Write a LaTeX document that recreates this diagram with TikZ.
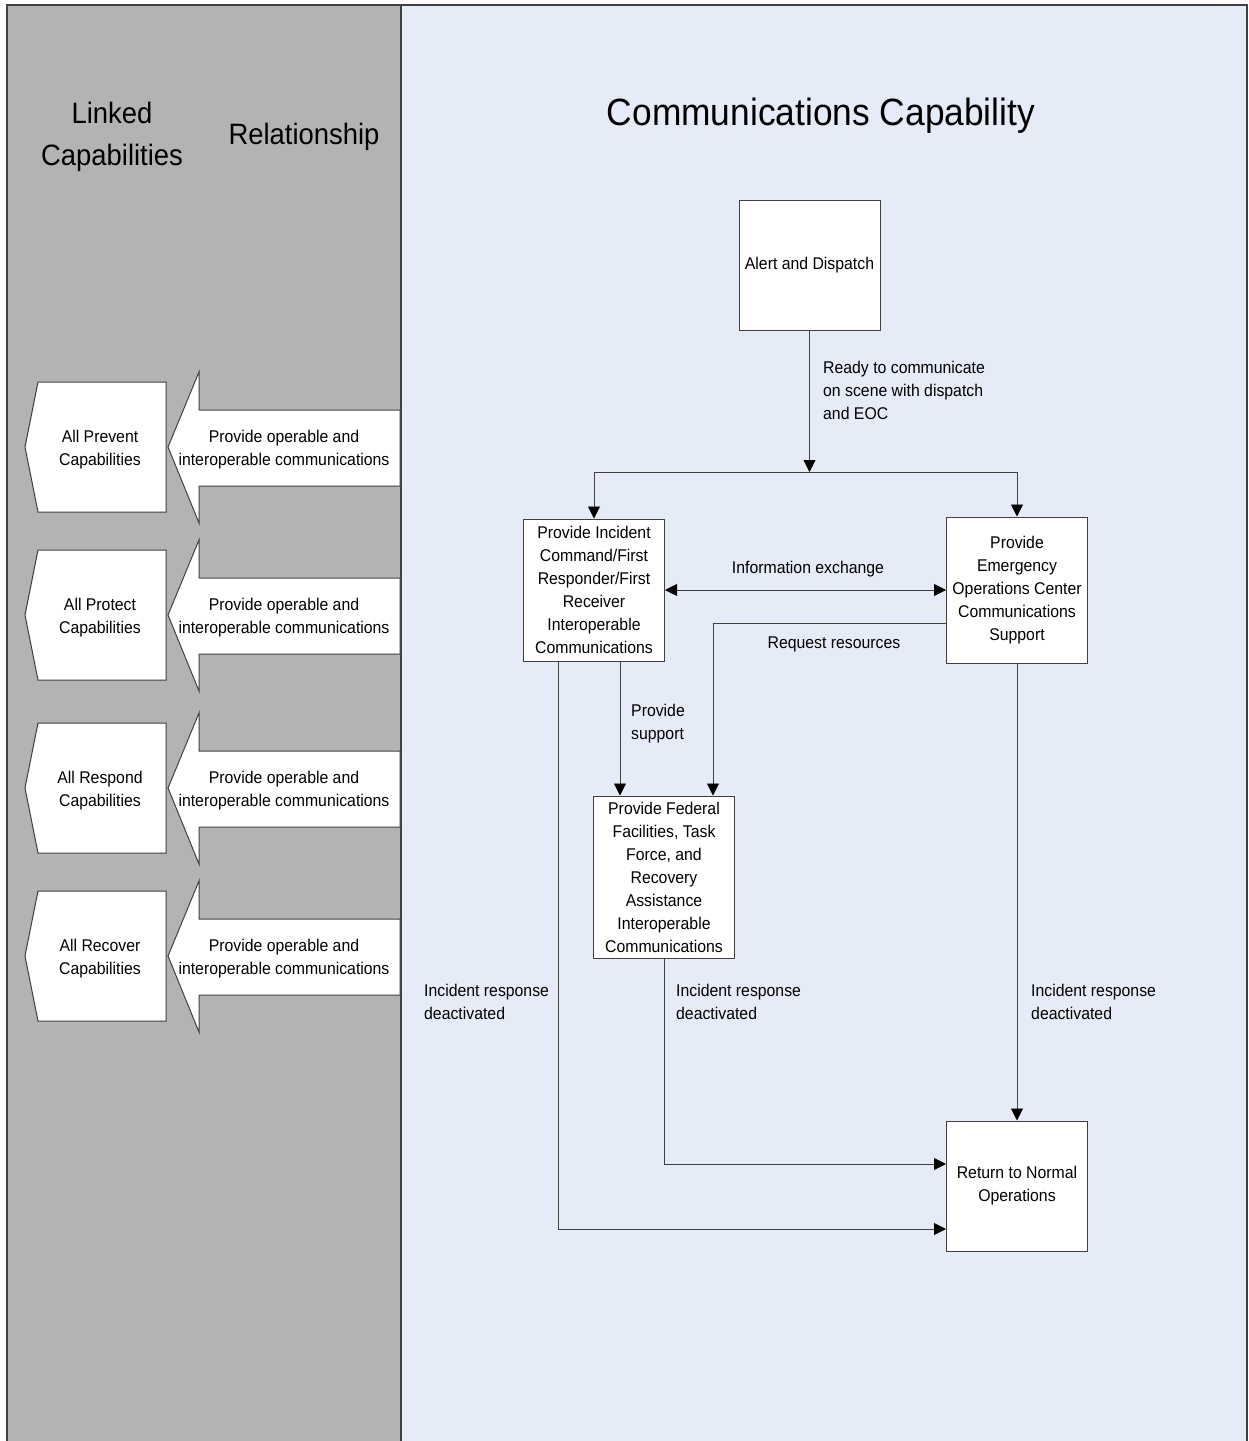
\documentclass[tikz,border=0pt]{standalone}
\usepackage{fontspec}
\setmainfont{Liberation Sans}[FakeStretch=0.93]
\usetikzlibrary{arrows.meta}
\definecolor{panelgray}{HTML}{B3B3B3}
\definecolor{panelblue}{HTML}{E6ECF7}
\definecolor{edge}{HTML}{404040}
\tikzset{
  body/.style={font=\fontsize{17}{23}\selectfont},
  procbox/.style={body, draw=edge, fill=white, line width=1pt, align=center, inner sep=0pt, minimum width=141pt},
  lbl/.style={body, inner sep=0pt, align=left, anchor=west},
  arr/.style={draw=edge, line width=0.9pt, -{Triangle[length=12pt,width=12pt,color=black]}},
  darr/.style={draw=edge, line width=0.9pt, {Triangle[length=12pt,width=12pt,color=black]}-{Triangle[length=12pt,width=12pt,color=black]}},
  shapeline/.style={draw=edge, fill=white, line width=1pt, line join=miter},
}
\begin{document}
\begin{tikzpicture}[x=1pt,y=-1pt]
\useasboundingbox (0,0) rectangle (1249,1441);
% panels
\fill[panelgray] (7,5) rectangle (401,1441);
\fill[panelblue] (401,5) rectangle (1247,1441);
\draw[edge, line width=1.2pt] (7,1441) -- (7,5) -- (1247,5) -- (1247,1441);
\draw[edge, line width=1.2pt] (401,5) -- (401,1441);
% headers
\node[font=\fontsize{29.5}{42}\selectfont, align=center] (hlinked) at (112,136.5) {Linked\\Capabilities};
\node[font=\fontsize{29.5}{42}\selectfont] (hrel) at (304,136.5) {Relationship};
\node[font=\fontsize{38}{46}\selectfont] (htitle) at (821,116) {Communications Capability};
% linked capabilities rows
\foreach \yo/\nm/\txt in {382/prevent/All Prevent, 550/protect/All Protect, 723/respond/All Respond, 891/recover/All Recover}{
  \draw[shapeline] (25,\yo+65) -- (38,\yo) -- (166,\yo) -- (166,\yo+130) -- (38,\yo+130) -- cycle;
  \draw[shapeline] (168,\yo+65) -- (199,\yo-10) -- (199,\yo+28) -- (400,\yo+28) -- (400,\yo+104) -- (199,\yo+104) -- (199,\yo+141) -- cycle;
  \node[body, align=center] (cap-\nm) at (100,\yo+68) {\txt\\Capabilities};
  \node[body, align=center] (rel-\nm) at (284,\yo+68) {Provide operable and\\interoperable communications};
}
% process boxes
\node[procbox, minimum height=130pt] (alert) at (809.5,265) {\raisebox{-1.5pt}{Alert and Dispatch}};
\node[procbox, minimum height=142pt] (ics) at (594,590) {Provide Incident\\Command/First\\Responder/First\\Receiver\\Interoperable\\Communications};
\node[procbox, minimum height=146pt] (eoc) at (1017,590) {Provide\\Emergency\\Operations Center\\Communications\\Support};
\node[procbox, minimum height=162pt] (fed) at (664,877) {Provide Federal\\Facilities, Task\\Force, and\\Recovery\\Assistance\\Interoperable\\Communications};
\node[procbox, minimum height=130pt] (ret) at (1017,1186) {Return to Normal\\Operations};
\coordinate (split) at (809.5,472);
% connectors
\draw[arr] (alert.south) -- (split);
\draw[arr] (split) -| (ics.north);
\draw[arr] (split) -| (eoc.north);
\draw[darr] (ics.east) -- (eoc.west);
\draw[arr] ([yshift=-33pt]eoc.west) -| ([xshift=49pt]fed.north);
\draw[arr] ([xshift=26pt]ics.south) -- ([xshift=-44pt]fed.north);
\draw[arr] ([xshift=-36pt]ics.south) |- ([yshift=-43pt]ret.west);
\draw[arr] (fed.south) |- ([yshift=22pt]ret.west);
\draw[arr] (eoc.south) -- (ret.north);
% labels
\node[lbl] (lready) at (823,390.5) {Ready to communicate\\on scene with dispatch\\and EOC};
\node[body, inner sep=0pt] (linfo) at (808,569.5) {Information exchange};
\node[body, inner sep=0pt] (lreq) at (834,644.5) {Request resources};
\node[lbl] (lsupport) at (631,724) {Provide\\support};
\node[lbl] (ldeact1) at (424,1002) {Incident response\\deactivated};
\node[lbl] (ldeact2) at (676,1002) {Incident response\\deactivated};
\node[lbl] (ldeact3) at (1031,1002) {Incident response\\deactivated};
\end{tikzpicture}
\end{document}
